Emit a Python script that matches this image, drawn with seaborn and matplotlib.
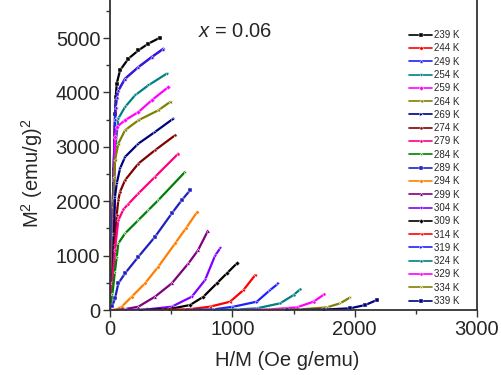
import matplotlib
matplotlib.use("Agg")
import matplotlib.pyplot as plt
import seaborn as sns
import pandas as pd
from matplotlib.ticker import MultipleLocator

# ---------------- data ----------------
temps = ["239 K", "244 K", "249 K", "254 K", "259 K", "264 K", "269 K", "274 K",
         "279 K", "284 K", "289 K", "294 K", "299 K", "304 K", "309 K", "314 K",
         "319 K", "324 K", "329 K", "334 K", "339 K"]

colors = ["#000000", "#ff0000", "#2020ff", "#008080", "#ff00ff", "#808000", "#000080",
          "#800000", "#ff0080", "#008000", "#2020c0", "#ff8000", "#800080", "#8000ff",
          "#000000", "#ff0000", "#2020ff", "#008080", "#ff00ff", "#808000", "#000080"]

x239 = [0, 15, 30, 41, 47, 55, 82, 150, 232, 313, 409]
y239 = [0, 1200, 2600, 3612, 3917, 4163, 4407, 4621, 4774, 4897, 5008]
x244 = [0, 12, 28, 41, 47, 55, 68, 123, 232, 341, 436]
y244 = [0, 1000, 2400, 3500, 3720, 3900, 4030, 4250, 4465, 4650, 4800]
x249 = [0, 12, 28, 41, 47, 55, 68, 123, 232, 341, 436]
y249 = [0, 1000, 2400, 3520, 3733, 3917, 4040, 4254, 4468, 4652, 4805]
x254 = [0, 12, 28, 45, 68, 123, 205, 313, 464]
y254 = [0, 800, 2000, 3000, 3520, 3733, 3948, 4131, 4346]
x259 = [0, 14, 30, 41, 55, 123, 232, 341, 477]
y259 = [0, 700, 1900, 3182, 3366, 3489, 3640, 3856, 4100]
x264 = [0, 15, 30, 35, 41, 68, 123, 232, 395, 491]
y264 = [0, 600, 1700, 2448, 2754, 3060, 3305, 3489, 3672, 3825]
x269 = [0, 18, 32, 41, 55, 82, 123, 232, 368, 518]
y269 = [0, 500, 1400, 2080, 2326, 2602, 2815, 3060, 3274, 3520]
x274 = [0, 20, 38, 55, 68, 82, 123, 232, 368, 532]
y274 = [0, 500, 1200, 1750, 2020, 2173, 2387, 2693, 2938, 3213]
x279 = [0, 20, 40, 68, 110, 150, 232, 368, 559]
y279 = [0, 500, 1100, 1650, 1850, 1950, 2143, 2448, 2877]
x284 = [0, 20, 40, 55, 68, 123, 232, 313, 395, 614]
y284 = [0, 300, 700, 979, 1224, 1408, 1653, 1836, 2020, 2540]
x289 = [0, 20, 41, 68, 123, 232, 368, 505, 587, 655]
y289 = [0, 80, 215, 490, 674, 979, 1346, 1776, 2020, 2203]
x294 = [20, 60, 96, 178, 286, 395, 532, 620, 710]
y294 = [0, 20, 61, 245, 490, 796, 1224, 1500, 1795]
x299 = [40, 120, 232, 368, 505, 641, 720, 800]
y299 = [0, 15, 61, 245, 490, 857, 1100, 1455]
x304 = [120, 300, 505, 669, 777, 859, 900]
y304 = [0, 10, 61, 245, 551, 1000, 1133]
x309 = [250, 480, 655, 764, 873, 955, 1037]
y309 = [0, 15, 92, 245, 490, 674, 857]
x314 = [420, 650, 818, 982, 1091, 1187]
y314 = [0, 15, 61, 153, 367, 643]
x319 = [620, 850, 1009, 1200, 1309, 1377]
y319 = [0, 12, 61, 153, 367, 490]
x324 = [850, 1050, 1200, 1391, 1500, 1555]
y324 = [0, 10, 31, 123, 275, 380]
x329 = [1050, 1300, 1528, 1664, 1751]
y329 = [0, 10, 49, 153, 288]
x334 = [1250, 1550, 1773, 1882, 1964]
y334 = [0, 10, 49, 123, 233]
x339 = [1450, 1750, 1964, 2087, 2182]
y339 = [0, 8, 31, 92, 184]

xs = [x239, x244, x249, x254, x259, x264, x269, x274, x279, x284, x289,
      x294, x299, x304, x309, x314, x319, x324, x329, x334, x339]
ys = [y239, y244, y249, y254, y259, y264, y269, y274, y279, y284, y289,
      y294, y299, y304, y309, y314, y319, y324, y329, y334, y339]

xticks = [0, 1000, 2000, 3000]
yticks = [0, 1000, 2000, 3000, 4000, 5000]

# ---------------- build table ----------------
rows = []
for t, xv, yv in zip(temps, xs, ys):
    for i, (a, b) in enumerate(zip(xv, yv)):
        rows.append({"T": t, "x": a, "y": b, "i": i})
df = pd.DataFrame(rows)

sns.set_theme(style="ticks")
plt.rcParams["font.family"] = ["Liberation Sans", "DejaVu Sans"]
plt.rcParams["mathtext.fontset"] = "custom"
plt.rcParams["mathtext.rm"] = "Liberation Sans"
plt.rcParams["mathtext.it"] = "Liberation Sans:italic"

fig = plt.figure(figsize=(5.01, 3.75), dpi=100)
ax = fig.add_axes([110 / 501, 65 / 375, 367 / 501, 310 / 375])

mk_cycle = ["s", "o", "^", "v", "D", "<", ">", "p", "h", "*"]
markers = {t: mk_cycle[k % len(mk_cycle)] for k, t in enumerate(temps)}
palette = dict(zip(temps, colors))

sns.lineplot(data=df, x="x", y="y", hue="T", style="T", hue_order=temps,
             style_order=temps, palette=palette, markers=markers, dashes=False,
             sort=False, estimator=None, units=None, ax=ax, linewidth=1.6,
             markersize=2.5, markeredgewidth=0.3)

ax.set_xlim(0, 3000)
ax.set_ylim(0, 5700)
ax.set_xticks(xticks)
ax.set_yticks(yticks)
ax.xaxis.set_minor_locator(MultipleLocator(500))
ax.yaxis.set_minor_locator(MultipleLocator(500))
ax.tick_params(which="major", direction="out", length=5, width=1, labelsize=14.5,
               color="#333333", pad=2)
ax.tick_params(which="minor", direction="out", length=3, width=1, color="#333333")
ax.tick_params(axis="y", right=False)
for s in ["left", "bottom", "right"]:
    ax.spines[s].set_color("#333333")
    ax.spines[s].set_linewidth(1.3)
ax.spines["top"].set_visible(False)

ax.set_xlabel("H/M (Oe g/emu)", fontsize=14.5)
ax.set_ylabel(r"M$^2$ (emu/g)$^2$", fontsize=14.5)
ax.xaxis.set_label_coords(0.483, -0.133)
ax.yaxis.set_label_coords(-0.178, 0.442)

ax.text(0.3406, 0.898, r"$x$ = 0.06", transform=ax.transAxes, fontsize=14.5,
        ha="center", va="center")

leg = ax.legend(loc="upper left", bbox_to_anchor=(409 / 501, 1 - 30 / 375),
                bbox_transform=fig.transFigure, frameon=False, fontsize=7,
                handlelength=2.4, handletextpad=0.2, labelspacing=0.34,
                borderpad=0, borderaxespad=0)
for h in leg.get_lines():
    h.set_linewidth(1.2)
    h.set_markersize(2.5)

fig.savefig("out.png", dpi=100)
